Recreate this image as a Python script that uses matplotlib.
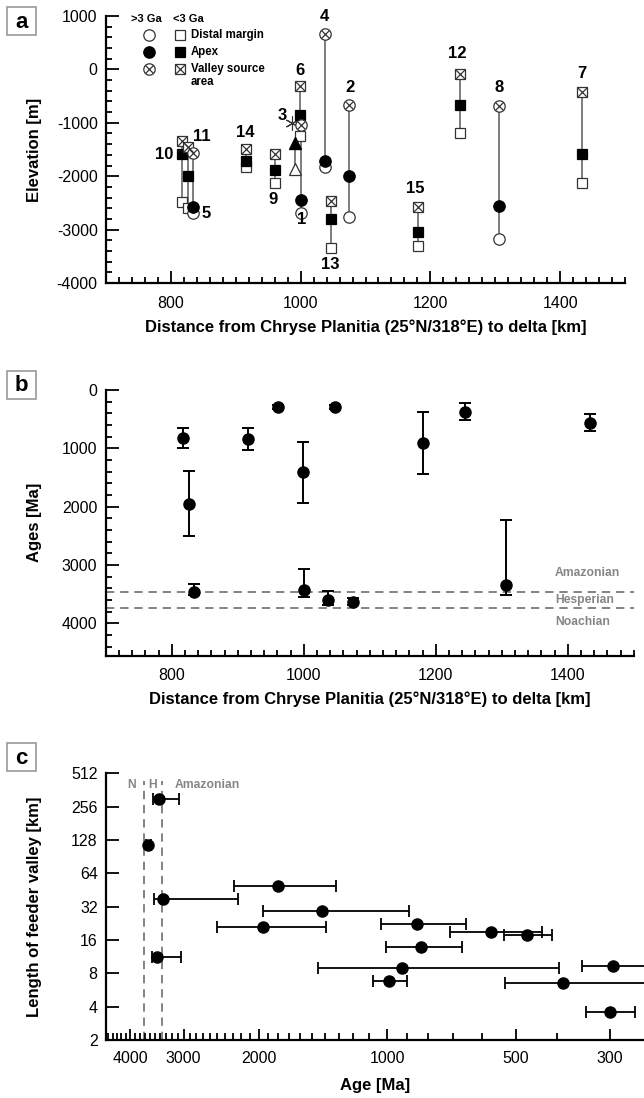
import matplotlib
matplotlib.use('Agg')
import matplotlib.pyplot as plt
from matplotlib.patches import Rectangle
from matplotlib.ticker import MultipleLocator, FixedLocator, NullFormatter

plt.rcParams['font.family'] = ['Liberation Sans', 'DejaVu Sans']
plt.rcParams['font.size'] = 11
plt.rcParams['axes.unicode_minus'] = False

# ---- panel a: elevations [m] of distal margin / apex / valley source ----
# >3 Ga sites (circles)
old_ids = ['1', '2', '4', '5', '8']
old_dist = [1001, 1075, 1037, 834, 1306]
old_distal = [-2682, -2756, -1831, -2693, -3168]
old_apex = [-2450, -1989, -1713, -2580, -2556]
old_source = [-1045, -665, 659, -1570, -683]

# <3 Ga sites (squares)
young_ids = ['6', '7', '9', '10', '11', '12', '13', '14', '15']
young_dist = [999, 1434, 961, 817, 826, 1245, 1047, 916, 1181]
young_distal = [-1245, -2120, -2120, -2487, -2590, -1183, -3348, -1820, -3305]
young_apex = [-852, -1588, -1888, -1588, -1994, -659, -2794, -1713, -3037]
young_source = [-309, -427, -1588, -1333, -1445, -84, -2468, -1489, -2569]

# site 3 (triangles + asterisk)
s3_dist = 992
s3_upper = -1370
s3_lower = -1870
s3_star_dist = 986
s3_star = -1000

# where the site numbers are written (km, m)
label_ids = ['1', '2', '3', '4', '5', '6', '7', '8', '9', '10', '11', '12', '13', '14', '15']
label_x = [1001, 1076, 972, 1036, 854, 999, 1433, 1306, 958, 789, 847, 1241, 1046, 915, 1177]
label_y = [-2818, -333, -871, 989, -2693, -22, -84, -341, -2431, -1588, -1258, 290, -3661, -1184, -2225]

# ---- panel b: ages [Ma] vs distance ----
b_dist = [817, 826, 834, 916, 961, 999, 1001, 1037, 1047, 1075, 1181, 1245, 1306, 1434]
b_age = [829, 1950, 3459, 840, 286, 1412, 3430, 3602, 286, 3630, 914, 377, 3350, 566]
b_lo = [657, 1384, 3317, 646, 250, 886, 3075, 3442, 250, 3570, 383, 229, 2230, 417]
b_hi = [1000, 2504, 3516, 1029, 320, 1944, 3545, 3688, 320, 3690, 1446, 514, 3516, 698]
amaz_hesp = 3470
hesp_noach = 3728

# ---- panel c: feeder valley length [km] vs age [Ma] ----
c_age = [3420, 3630, 3357, 1800, 1424, 1950, 3467, 925, 849, 572, 471, 835, 296, 991, 388, 301]
c_len = [298, 115, 37.6, 49.6, 29.4, 21.1, 11.2, 8.9, 22.3, 18.9, 17.8, 13.7, 9.3, 6.87, 6.6, 3.56]
c_old = [3545, 3680, 3513, 2281, 1950, 2501, 3565, 1456, 1036, 713, 531, 1007, 350, 1082, 530, 341]
c_young = [3075, 3580, 2234, 1321, 889, 1394, 3041, 395, 655, 433, 411, 666, 230, 896, 230, 262]
c_amaz_hesp = 3377
c_hesp_noach = 3715

W, H = 644, 1098
fig = plt.figure(figsize=(W / 100, H / 100), dpi=100)


def axes_px(left, top, right, bottom):
    return fig.add_axes([left / W, 1 - bottom / H, (right - left) / W, (bottom - top) / H])


def style(ax):
    for s in ['top', 'right']:
        ax.spines[s].set_visible(False)
    for s in ['left', 'bottom']:
        ax.spines[s].set_linewidth(1.6)
    ax.tick_params(which='both', direction='in', width=1.3, labelsize=11.5)
    ax.tick_params(which='major', length=9)
    ax.tick_params(which='minor', length=4.5)
    ax.tick_params(axis='x', pad=9)
    ax.tick_params(axis='y', pad=6)


def panel_box(letter, cx, cy):
    fig.patches.append(Rectangle(((cx - 14.5) / W, 1 - (cy + 14) / H), 29 / W, 28 / H,
                                 transform=fig.transFigure, fill=False, ec='#9a9a9a', lw=1.2))
    fig.text(cx / W, 1 - (cy + 1) / H, letter, fontsize=16, fontweight='bold',
             ha='center', va='center')


ms_sq = 7.6
ms_ci = 8.2
line_col = '#5a5a5a'
grey_txt = '#858585'
lab_fs = 12

# ================= panel a =================
ax = axes_px(106, 16, 625, 283)
style(ax)
for d, lo, hi in zip(old_dist, old_distal, old_source):
    ax.plot([d, d], [lo, hi], color=line_col, lw=1.1, zorder=1)
for d, lo, hi in zip(young_dist, young_distal, young_source):
    ax.plot([d, d], [lo, hi], color=line_col, lw=1.1, zorder=1)
ax.plot([s3_dist, s3_dist], [s3_lower, s3_upper], color=line_col, lw=1.1, zorder=1)

ax.plot(young_dist, young_distal, 's', ms=ms_sq, mfc='white', mec='#333', mew=0.9, ls='none', zorder=2)
ax.plot(young_dist, young_apex, 's', ms=ms_sq, mfc='black', mec='black', mew=0.9, ls='none', zorder=3)
ax.plot(young_dist, young_source, 's', ms=ms_sq, mfc='white', mec='#333', mew=0.9, ls='none', zorder=3)
ax.plot(young_dist, young_source, 'x', ms=ms_sq, mec='#333', mew=0.9, ls='none', zorder=4)

ax.plot(old_dist, old_distal, 'o', ms=ms_ci, mfc='white', mec='#333', mew=0.9, ls='none', zorder=2)
ax.plot(old_dist, old_apex, 'o', ms=ms_ci, mfc='black', mec='black', mew=0.9, ls='none', zorder=3)
ax.plot(old_dist, old_source, 'o', ms=ms_ci, mfc='white', mec='#333', mew=0.9, ls='none', zorder=3)
ax.plot(old_dist, old_source, 'x', ms=ms_ci * 0.62, mec='#333', mew=0.9, ls='none', zorder=4)

ax.plot([s3_dist], [s3_upper], '^', ms=8, mfc='black', mec='black', zorder=3)
ax.plot([s3_dist], [s3_lower], '^', ms=8, mfc='white', mec='#333', mew=0.9, zorder=3)
ax.plot([s3_star_dist], [s3_star], marker=(6, 2, 0), ms=10, mec='#333', mew=0.8, ls='none', zorder=2)

for t, x, y in zip(label_ids, label_x, label_y):
    ax.text(x, y, t, fontsize=12, fontweight='bold', ha='center', va='center')

# legend drawn by hand
tr = ax.transAxes
ax.text(0.078, 0.988, '>3 Ga', transform=tr, fontsize=8, fontweight='bold', ha='center', va='center')
ax.text(0.158, 0.988, '<3 Ga', transform=tr, fontsize=8, fontweight='bold', ha='center', va='center')
rows = [0.929, 0.864, 0.8015]
kw = dict(transform=tr, clip_on=False, ls='none', mew=0.9)
ax.plot([0.0834], [rows[0]], 'o', ms=ms_ci, mfc='white', mec='#333', **kw)
ax.plot([0.1426], [rows[0]], 's', ms=ms_sq, mfc='white', mec='#333', **kw)
ax.plot([0.0834], [rows[1]], 'o', ms=ms_ci, mfc='black', mec='black', **kw)
ax.plot([0.1426], [rows[1]], 's', ms=ms_sq, mfc='black', mec='black', **kw)
ax.plot([0.0834], [rows[2]], 'o', ms=ms_ci, mfc='white', mec='#333', **kw)
ax.plot([0.0834], [rows[2]], 'x', ms=ms_ci * 0.62, mec='#333', **kw)
ax.plot([0.1426], [rows[2]], 's', ms=ms_sq, mfc='white', mec='#333', **kw)
ax.plot([0.1426], [rows[2]], 'x', ms=ms_sq, mec='#333', **kw)
ax.text(0.1632, rows[0], 'Distal margin', transform=tr, fontsize=8.3, fontweight='bold', va='center')
ax.text(0.1632, rows[1], 'Apex', transform=tr, fontsize=8.3, fontweight='bold', va='center')
ax.text(0.1632, rows[2], 'Valley source', transform=tr, fontsize=8.3, fontweight='bold', va='center')
ax.text(0.1632, 0.7517, 'area', transform=tr, fontsize=8.3, fontweight='bold', va='center')

ax.set_xlim(700, 1500)
ax.set_ylim(-4000, 1000)
ax.set_xticks([800, 1000, 1200, 1400])
ax.xaxis.set_minor_locator(MultipleLocator(20))
ax.yaxis.set_major_locator(MultipleLocator(1000))
ax.yaxis.set_minor_locator(MultipleLocator(200))
ax.set_xlabel('Distance from Chryse Planitia (25°N/318°E) to delta [km]', fontsize=lab_fs, fontweight='bold')
ax.set_ylabel('Elevation [m]', fontsize=lab_fs, fontweight='bold')
ax.xaxis.set_label_coords(0.5, -0.138)
ax.yaxis.set_label_coords(-0.123, 0.5)
panel_box('a', 21.5, 21)

# ================= panel b =================
ax = axes_px(105.7, 390, 633.7, 655.5)
style(ax)
yerr = [[a - l for a, l in zip(b_age, b_lo)], [h - a for a, h in zip(b_age, b_hi)]]
ax.errorbar(b_dist, b_age, yerr=yerr, fmt='o', ms=8, color='black', ecolor='black',
            elinewidth=1.4, capsize=4, capthick=1.4, zorder=3)
for yv in (amaz_hesp, hesp_noach):
    ax.axhline(yv, color='#6e6e6e', lw=1.2, dashes=(5, 3.5), zorder=1)
ax.text(1381, 3144, 'Amazonian', color=grey_txt, fontsize=8.7, fontweight='bold', va='center')
ax.text(1381, 3602, 'Hesperian', color=grey_txt, fontsize=8.7, fontweight='bold', va='center')
ax.text(1381, 3974, 'Noachian', color=grey_txt, fontsize=8.7, fontweight='bold', va='center')
ax.set_xlim(700, 1500)
ax.set_ylim(4550, 0)
ax.set_xticks([800, 1000, 1200, 1400])
ax.xaxis.set_minor_locator(MultipleLocator(20))
ax.yaxis.set_major_locator(MultipleLocator(1000))
ax.yaxis.set_minor_locator(MultipleLocator(200))
ax.set_xlabel('Distance from Chryse Planitia (25°N/318°E) to delta [km]', fontsize=lab_fs, fontweight='bold')
ax.set_ylabel('Ages [Ma]', fontsize=lab_fs, fontweight='bold')
ax.xaxis.set_label_coords(0.5, -0.137)
ax.yaxis.set_label_coords(-0.121, 0.5)
panel_box('b', 21.5, 384.5)

# ================= panel c =================
ax = axes_px(106, 773.3, 644, 1040)
style(ax)
ax.set_xscale('log')
ax.set_yscale('log', base=2)
xerr = [[a - y for a, y in zip(c_age, c_young)], [o - a for a, o in zip(c_age, c_old)]]
ax.errorbar(c_age, c_len, xerr=xerr, fmt='o', ms=8, color='black', ecolor='black',
            elinewidth=1.3, capsize=4, capthick=1.3, zorder=3)
for xv in (c_hesp_noach, c_amaz_hesp):
    ax.plot([xv, xv], [2, 440], color='#6e6e6e', lw=1.2, dashes=(5, 3.5), zorder=1)
lab_bg = dict(facecolor='white', edgecolor='none', pad=0.6)
ax.text(3968, 402, 'N', color=grey_txt, fontsize=8.7, fontweight='bold', ha='center', va='center', bbox=lab_bg)
ax.text(3543, 402, 'H', color=grey_txt, fontsize=8.7, fontweight='bold', ha='center', va='center', bbox=lab_bg)
ax.text(3143, 402, 'Amazonian', color=grey_txt, fontsize=8.7, fontweight='bold', ha='left', va='center', bbox=lab_bg)
ax.set_xlim(4560, 250)
ax.set_ylim(2, 512)
c_major = [4000, 3000, 2000, 1000, 500, 300]
ax.xaxis.set_major_locator(FixedLocator(c_major))
ax.set_xticklabels([str(v) for v in c_major])
ax.xaxis.set_minor_locator(FixedLocator([v for v in range(300, 4600, 100) if v not in c_major]))
ax.xaxis.set_minor_formatter(NullFormatter())
ax.tick_params(axis='x', which='major', length=8, pad=8)
ax.tick_params(axis='x', which='minor', length=5)
c_yt = [2, 4, 8, 16, 32, 64, 128, 256, 512]
ax.yaxis.set_major_locator(FixedLocator(c_yt))
ax.set_yticklabels([str(v) for v in c_yt])
ax.yaxis.set_minor_locator(FixedLocator([]))
ax.set_xlabel('Age [Ma]', fontsize=lab_fs, fontweight='bold')
ax.set_ylabel('Length of feeder valley [km]', fontsize=lab_fs, fontweight='bold')
ax.xaxis.set_label_coords(0.5, -0.142)
ax.yaxis.set_label_coords(-0.119, 0.5)
panel_box('c', 21.5, 757)

fig.savefig('out.png', dpi=100)
